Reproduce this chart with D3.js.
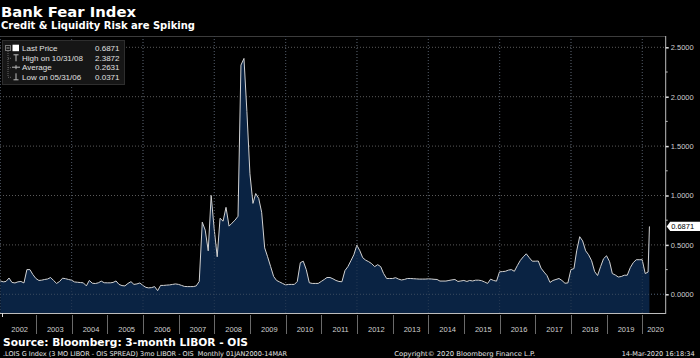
<!DOCTYPE html>
<html><head><meta charset="utf-8">
<script src="https://cdn.jsdelivr.net/npm/d3@7"></script>
<style>
html,body{margin:0;padding:0;background:#000;}
svg{display:block;}
</style></head>
<body>
<svg id="c" width="700" height="358"></svg>
<script>
// ---- DATA (month-end values of 3M LIBOR - OIS, %) ----
// Dec 2001 .. Dec 2006
const pre = [0.136,
  0.126,0.13,0.165,0.12,0.115,0.126,0.13,0.115,0.25,0.25,0.2,0.16,
  0.14,0.143,0.15,0.155,0.17,0.14,0.11,0.13,0.163,0.158,0.15,0.143,
  0.125,0.122,0.119,0.116,0.085,0.14,0.112,0.109,0.116,0.133,0.117,0.116,
  0.116,0.12,0.135,0.1,0.088,0.085,0.11,0.128,0.1,0.105,0.115,0.09,
  0.07,0.065,0.068,0.078,0.0371,0.09,0.09,0.093,0.095,0.1,0.105,0.1];
// Jan 2007 .. Dec 2009
const crisis = [0.09,0.08,0.078,0.078,0.078,0.085,0.13,0.73,0.65,0.44,1.0,0.66,
  0.38,0.77,0.74,0.88,0.69,0.72,0.75,0.79,2.32,2.3872,1.85,1.22,
  0.92,1.02,0.97,0.83,0.47,0.38,0.28,0.18,0.14,0.125,0.11,0.095];
// Jan 2010 .. Dec 2014
const post = [0.1,0.1,0.1,0.13,0.32,0.335,0.25,0.117,0.11,0.11,0.11,0.13,
  0.15,0.17,0.17,0.157,0.14,0.13,0.127,0.24,0.28,0.34,0.40,0.497,
  0.44,0.37,0.345,0.33,0.31,0.28,0.30,0.28,0.21,0.16,0.16,0.16,
  0.168,0.155,0.145,0.15,0.16,0.16,0.158,0.156,0.154,0.154,0.154,0.156,
  0.155,0.152,0.15,0.134,0.134,0.134,0.14,0.146,0.15,0.13,0.135,0.14];
// Jan 2015 .. Feb 2020, then 14 Mar 2020
const recent = [0.13,0.14,0.135,0.143,0.143,0.138,0.125,0.11,0.153,0.14,0.133,0.227,
  0.23,0.233,0.245,0.25,0.233,0.29,0.343,0.38,0.41,0.37,0.335,0.335,
  0.337,0.265,0.225,0.19,0.12,0.14,0.15,0.16,0.14,0.112,0.115,0.25,
  0.26,0.44,0.583,0.54,0.44,0.4,0.34,0.23,0.19,0.28,0.36,0.39,
  0.33,0.21,0.195,0.175,0.18,0.193,0.193,0.27,0.32,0.35,0.35,0.35,
  0.21,0.225,0.6871];
const years = d3.range(2002, 2021);
const yTicks = [0, 0.5, 1.0, 1.5, 2.0, 2.5];
const yMinor = [0.25, 0.75, 1.25, 1.75, 2.25];
const legendLabels = ["Last Price", "High on 10/31/08", "Average", "Low on 05/31/06"];
const legendValues = ["0.6871", "2.3872", "0.2631", "0.0371"];
const lastValue = 0.6871;

// ---- BUILD SERIES ----
const values = pre.concat(crisis, post, recent);
const series = values.map((v, i) => ({
  date: i === values.length - 1 ? new Date(2020, 2, 14) : new Date(2002, i, 0),
  v: v
}));

// ---- LAYOUT ----
const svg = d3.select("#c");
const W = 700, H = 358;
const plotL = 0, plotR = 665.7, plotT = 36, plotB = 313;
const x = d3.scaleTime().domain([new Date(2002,0,1), new Date(2020,0,1)]).range([0.33, 642.3]);
const y = d3.scaleLinear().domain([0, 2.5]).range([294.3, 47.3]);

svg.append("rect").attr("width", W).attr("height", H).attr("fill", "#000");

// clip
svg.append("clipPath").attr("id","clip").append("rect")
  .attr("x", plotL).attr("y", plotT).attr("width", plotR - plotL).attr("height", plotB - plotT);

// grid
const grid = svg.append("g");
grid.selectAll("line.h").data(yTicks).join("line")
  .attr("x1", plotL).attr("x2", plotR)
  .attr("y1", d => y(d)).attr("y2", d => y(d))
  .attr("stroke", "#5a5a5a").attr("stroke-width", 1).attr("stroke-dasharray", "1,2");
grid.selectAll("line.v").data(years.filter(d => d % 2 === 0)).join("line")
  .attr("x1", d => x(new Date(d,0,1))).attr("x2", d => x(new Date(d,0,1)))
  .attr("y1", plotT).attr("y2", plotB)
  .attr("stroke", "#5a5a5a").attr("stroke-width", 1).attr("stroke-dasharray", "1,2");
// top border
svg.append("line").attr("x1", plotL).attr("x2", plotR).attr("y1", plotT + 0.5).attr("y2", plotT + 0.5)
  .attr("stroke", "#3c3c3c");

// area + line
const area = d3.area().x(d => x(d.date)).y0(plotB).y1(d => y(d.v));
const line = d3.line().x(d => x(d.date)).y(d => y(d.v));
const g = svg.append("g").attr("clip-path", "url(#clip)");
g.append("path").datum(series).attr("d", area).attr("fill", "#0a2343");
g.append("path").datum(series).attr("d", line).attr("fill", "none")
  .attr("stroke", "#d2d2d2").attr("stroke-width", 1).attr("stroke-linejoin", "round");

// vertical grid lines drawn over fill (dotted, subtle)
g.selectAll("line.v2").data(years.filter(d => d % 2 === 0)).join("line")
  .attr("x1", d => x(new Date(d,0,1))).attr("x2", d => x(new Date(d,0,1)))
  .attr("y1", plotT).attr("y2", plotB)
  .attr("stroke", "#3a4a60").attr("stroke-width", 1).attr("stroke-dasharray", "1,2").attr("opacity", 0.6);
g.selectAll("line.h2").data([0]).join("line")
  .attr("x1", plotL).attr("x2", plotR).attr("y1", d => y(d)).attr("y2", d => y(d))
  .attr("stroke", "#3a4a60").attr("stroke-width", 1).attr("stroke-dasharray", "1,2");

// bottom border & y axis line
svg.append("line").attr("x1", plotL).attr("x2", plotR).attr("y1", plotB + 0.5).attr("y2", plotB + 0.5)
  .attr("stroke", "#bdbdbd");
svg.append("line").attr("x1", plotR).attr("x2", plotR).attr("y1", plotT).attr("y2", plotB + 1)
  .attr("stroke", "#bdbdbd");

// y axis
const yAxis = d3.axisRight(y).tickValues(yTicks).tickFormat(d3.format(".4f")).tickSize(3).tickPadding(2);
const ya = svg.append("g").attr("transform", `translate(${plotR},0)`).call(yAxis);
ya.select(".domain").remove();
ya.selectAll(".tick line").attr("stroke", "#e0e0e0").attr("stroke-width", 1.5);
ya.selectAll(".tick text").attr("fill", "#d0d0d0").attr("font-family", "Liberation Sans, Arial, sans-serif").attr("font-size", 7.5);
svg.append("g").selectAll("line").data(yMinor).join("line")
  .attr("x1", plotR).attr("x2", plotR + 2).attr("y1", d => y(d)).attr("y2", d => y(d))
  .attr("stroke", "#bdbdbd");

// last value badge
const yv = y(lastValue);
svg.append("path")
  .attr("d", `M${plotR+1},${yv} L${plotR+4.5},${yv-4.6} H700 V${yv+4.6} H${plotR+4.5} Z`)
  .attr("fill", "#fff");
svg.append("text").attr("x", plotR + 5.5).attr("y", yv + 2.7).text(d3.format(".4f")(lastValue))
  .attr("fill", "#000").attr("font-family", "Liberation Sans, Arial, sans-serif").attr("font-size", 7.5);

// x axis: year cells
const xa = svg.append("g");
xa.selectAll("line").data(years.slice(1)).join("line")
  .attr("x1", d => Math.round(x(new Date(d,0,1))) + 0.5).attr("x2", d => Math.round(x(new Date(d,0,1))) + 0.5)
  .attr("y1", 315).attr("y2", 334).attr("stroke", "#6a6a6a");
xa.append("line").attr("x1", 2.5).attr("x2", 2.5).attr("y1", 313).attr("y2", 317).attr("stroke", "#ddd");
xa.selectAll("text").data(years).join("text")
  .attr("x", d => {
    const a = x(new Date(d,0,1)), b = Math.min(x(new Date(d+1,0,1)), plotR);
    return (a + b) / 2 + 1.5;
  })
  .attr("y", 331.5).attr("text-anchor", "middle").text(d => d)
  .attr("fill", "#d0d0d0").attr("font-family", "Liberation Sans, Arial, sans-serif").attr("font-size", 7.5);

// titles
svg.append("text").attr("x", 1).attr("y", 16.5).text("Bank Fear Index")
  .attr("fill", "#fff").attr("font-family", "DejaVu Sans, Verdana, sans-serif").attr("font-weight", "bold")
  .attr("font-size", 14.5).attr("textLength", 135).attr("lengthAdjust", "spacingAndGlyphs");
svg.append("text").attr("x", 1).attr("y", 28.8).text("Credit & Liquidity Risk are Spiking")
  .attr("fill", "#fff").attr("font-family", "DejaVu Sans, Verdana, sans-serif").attr("font-weight", "bold")
  .attr("font-size", 9.8).attr("textLength", 194).attr("lengthAdjust", "spacingAndGlyphs");

// footer
svg.append("text").attr("x", 3).attr("y", 345.5).text("Source: Bloomberg: 3-month LIBOR - OIS")
  .attr("fill", "#fff").attr("font-family", "DejaVu Sans, Verdana, sans-serif").attr("font-weight", "bold")
  .attr("font-size", 10.5).attr("textLength", 245).attr("lengthAdjust", "spacingAndGlyphs");
const small = {fill: "#e6e6e6", ff: "DejaVu Sans, Verdana, sans-serif", fs: 6.6};
svg.append("text").attr("x", 3).attr("y", 355.5)
  .text(".LOIS G Index (3 MO LIBOR - OIS SPREAD) 3mo LIBOR - OIS  Monthly 01JAN2000-14MAR")
  .attr("fill", small.fill).attr("font-family", small.ff).attr("font-size", small.fs)
  .attr("textLength", 284).attr("lengthAdjust", "spacingAndGlyphs").attr("xml:space", "preserve");
svg.append("text").attr("x", 394.3).attr("y", 355.5).text("Copyright\u00A9 2020 Bloomberg Finance L.P.")
  .attr("fill", small.fill).attr("font-family", small.ff).attr("font-size", small.fs)
  .attr("textLength", 141).attr("lengthAdjust", "spacingAndGlyphs");
svg.append("text").attr("x", 621.7).attr("y", 355.5).text("14-Mar-2020 16:18:34")
  .attr("fill", small.fill).attr("font-family", small.ff).attr("font-size", small.fs)
  .attr("textLength", 73).attr("lengthAdjust", "spacingAndGlyphs");

// legend
const lg = svg.append("g");
lg.append("rect").attr("x", 2.5).attr("y", 40.5).attr("width", 122).attr("height", 44)
  .attr("fill", "#161616").attr("stroke", "#2e2e2e");
const rowY = [48.2, 57.8, 67.2, 76.8];
// tree lines
lg.append("rect").attr("x", 5.5).attr("y", 45.5).attr("width", 5).attr("height", 5)
  .attr("fill", "none").attr("stroke", "#777");
lg.append("line").attr("x1", 6.5).attr("x2", 9.5).attr("y1", 48).attr("y2", 48).attr("stroke", "#999");
lg.append("line").attr("x1", 8).attr("x2", 8).attr("y1", 51).attr("y2", rowY[3])
  .attr("stroke", "#666").attr("stroke-dasharray", "1,1");
lg.selectAll("line.br").data(rowY.slice(1)).join("line")
  .attr("x1", 8).attr("x2", 12).attr("y1", d => d + 0.5).attr("y2", d => d + 0.5)
  .attr("stroke", "#666").attr("stroke-dasharray", "1,1");
// markers
lg.append("rect").attr("x", 12.5).attr("y", rowY[0] - 3.5).attr("width", 6.5).attr("height", 6.5).attr("fill", "#fff");
const mk = lg.append("g").attr("stroke", "#bbb").attr("stroke-width", 1);
mk.append("line").attr("x1", 13.5).attr("x2", 18.5).attr("y1", rowY[1] - 3).attr("y2", rowY[1] - 3);
mk.append("line").attr("x1", 16).attr("x2", 16).attr("y1", rowY[1] - 3).attr("y2", rowY[1] + 3.5);
mk.append("line").attr("x1", 12).attr("x2", 20).attr("y1", rowY[2]).attr("y2", rowY[2]);
mk.append("line").attr("x1", 16).attr("x2", 16).attr("y1", rowY[2] - 2).attr("y2", rowY[2] + 2);
mk.append("line").attr("x1", 16).attr("x2", 16).attr("y1", rowY[3] - 3.5).attr("y2", rowY[3] + 3);
mk.append("line").attr("x1", 13.5).attr("x2", 18.5).attr("y1", rowY[3] + 3).attr("y2", rowY[3] + 3);
lg.selectAll("text.l").data(legendLabels).join("text")
  .attr("x", 22).attr("y", (d, i) => rowY[i] + 2.9).text(d => d)
  .attr("fill", "#e0e0e0").attr("font-family", "Liberation Sans, Arial, sans-serif").attr("font-size", 8);
lg.selectAll("text.v").data(legendValues).join("text")
  .attr("x", 119.5).attr("y", (d, i) => rowY[i] + 2.9).attr("text-anchor", "end").text(d => d)
  .attr("fill", "#e0e0e0").attr("font-family", "Liberation Sans, Arial, sans-serif").attr("font-size", 8);
</script>
</body></html>
